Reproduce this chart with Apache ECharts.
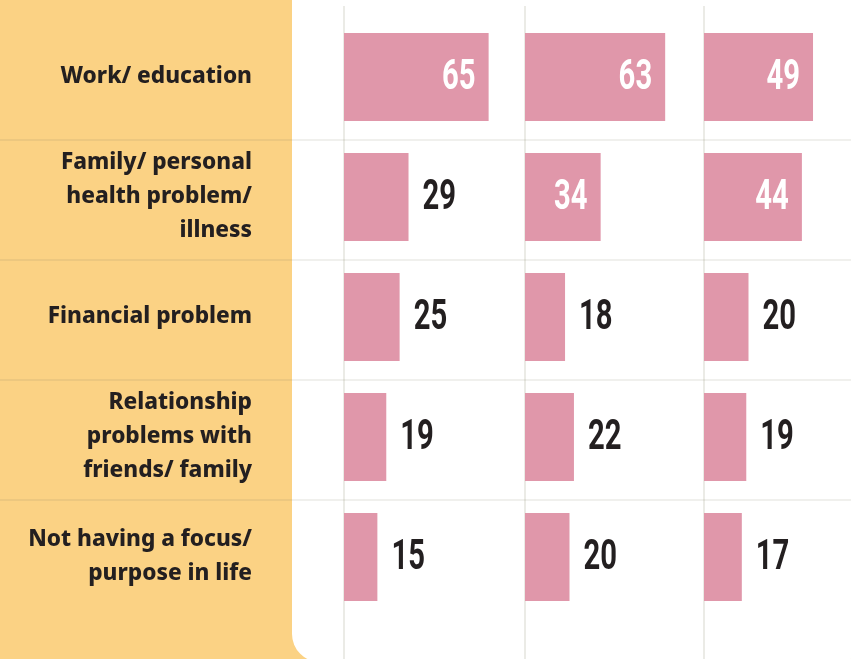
<!DOCTYPE html>
<html>
<head>
<meta charset="utf-8">
<script src="https://cdn.jsdelivr.net/npm/echarts@6/dist/echarts.min.js"></script>
<style>
html,body{margin:0;padding:0;background:#FBD284;}
#chart{width:851px;height:659px;}
</style>
</head>
<body>
<div id="chart"></div>
<script>
var categories = ['Work/ education', 'Family/ personal\nhealth problem/\nillness', 'Financial problem', 'Relationship\nproblems with\nfriends/ family', 'Not having a focus/\npurpose in life'];
var col1 = [65, 29, 25, 19, 15];
var col2 = [63, 34, 18, 22, 20];
var col3 = [49, 44, 20, 19, 17];
var columns = [col1, col2, col3];

var PINK = '#E097AA';
var DARK = '#231F20';
var CANVAS_W = 851;
var gridLefts = [344, 525, 704];
var PX_PER_UNIT = 2.225;
var TOP = 17, ROW = 120;

function renderValueLabel(params, api) {
  var v = api.value(0);
  var c = api.value(1);
  var end = api.coord([v, c]);
  var inside = v >= 30;
  return {
    type: 'text',
    x: inside ? end[0] - 13 : end[0] + 14,
    y: end[1] + 1,
    scaleX: 0.68,
    style: {
      text: String(v),
      fill: inside ? '#FFFFFF' : DARK,
      fontFamily: 'Roboto',
      fontWeight: 'bold',
      fontSize: 43,
      align: inside ? 'right' : 'left',
      verticalAlign: 'middle'
    }
  };
}

var grids = [], xAxes = [], yAxes = [], series = [];
columns.forEach(function (vals, i) {
  var w = Math.min(178, CANVAS_W - gridLefts[i]);
  grids.push({ left: gridLefts[i], width: w, top: TOP, height: ROW * 5, containLabel: false });
  xAxes.push({ type: 'value', gridIndex: i, min: 0, max: w / PX_PER_UNIT, show: false });
  yAxes.push({
    type: 'category', gridIndex: i, data: categories, inverse: true,
    axisLine: { show: false }, axisTick: { show: false }, splitLine: { show: false },
    axisLabel: i === 0 ? {
      show: true, margin: 92, align: 'right',
      fontFamily: 'Noto Sans', fontWeight: 800, fontSize: 22.6, lineHeight: 34, color: DARK
    } : { show: false }
  });
  series.push({
    type: 'bar', xAxisIndex: i, yAxisIndex: i, barWidth: 88,
    itemStyle: { color: PINK },
    data: vals,
    label: { show: false },
    animation: false
  });
  series.push({
    type: 'custom', xAxisIndex: i, yAxisIndex: i, z: 5,
    renderItem: renderValueLabel,
    encode: { x: 0, y: 1 },
    data: vals.map(function (v, k) { return [v, k]; }),
    silent: true,
    animation: false
  });
});

var graphics = [
  { type: 'rect', z: -10, shape: { x: 292, y: -60, width: 574, height: 722, r: 28 }, style: { fill: '#FFFFFF' } }
];
gridLefts.forEach(function (x) {
  graphics.push({ type: 'line', z: -5, shape: { x1: x, y1: 6, x2: x, y2: 670 }, style: { stroke: '#EBEBE6', lineWidth: 2 } });
});
[140, 260, 380, 500].forEach(function (y) {
  graphics.push({ type: 'line', z: -5, shape: { x1: 0, y1: y, x2: 851, y2: y }, style: { stroke: 'rgba(120,110,90,0.14)', lineWidth: 1.5 } });
});

var chart = echarts.init(document.getElementById('chart'), null, { renderer: 'canvas' });
chart.setOption({
  animation: false,
  backgroundColor: '#FBD284',
  graphic: { elements: graphics },
  grid: grids,
  xAxis: xAxes,
  yAxis: yAxes,
  series: series
});
</script>
</body>
</html>
